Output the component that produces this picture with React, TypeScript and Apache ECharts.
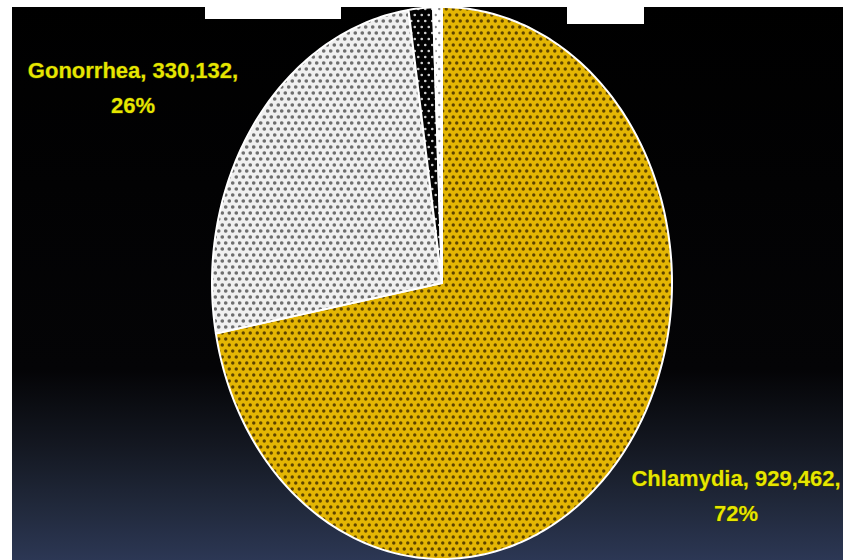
import React, { useEffect, useRef } from "react";
import * as echarts from "echarts";

// ---- data ----
const categories = ["Chlamydia", "Gonorrhea", "Syphilis", "Other"];
const values = [929462, 330132, 22000, 8000];
const labeledCategories = ["Gonorrhea", "Chlamydia"];

// ---- layout / style ----
const W = 843;
const H = 560;
const CX = 442;
const CY = 283;
const RX = 230;
const RY = 276;

const patternStyles = [
  { bg: "#e4b604", dot: "#5e4400", r: 1.7 },
  { bg: "#f0f0f0", dot: "#6e6e6e", r: 1.8 },
  { bg: "#030303", dot: "#d0d0d0", r: 1.3 },
  { bg: "#ffffff", dot: "#8a8a8a", r: 1.2 },
];

const labelPos: Record<string, [number, number]> = {
  Gonorrhea: [133, 88],
  Chlamydia: [736, 496],
};

function makePattern(bg: string, dot: string, r: number) {
  const tw = 7;
  const th = 12;
  const c = document.createElement("canvas");
  c.width = tw;
  c.height = th;
  const ctx = c.getContext("2d")!;
  ctx.fillStyle = bg;
  ctx.fillRect(0, 0, tw, th);
  ctx.fillStyle = dot;
  const pts = [
    [1.75, 3],
    [5.25, 9],
  ];
  for (const [x, y] of pts) {
    ctx.beginPath();
    ctx.arc(x, y, r, 0, Math.PI * 2);
    ctx.fill();
  }
  return { image: c, repeat: "repeat", imageWidth: tw, imageHeight: th } as any;
}

export default function App() {
  const ref = useRef<HTMLDivElement>(null);

  useEffect(() => {
    if (!ref.current) return;
    const chart = echarts.init(ref.current, undefined, { renderer: "svg" });
    const total = values.reduce((a, b) => a + b, 0);
    const patterns = patternStyles.map((p) => makePattern(p.bg, p.dot, p.r));

    const labels = labeledCategories.map((name) => {
      const i = categories.indexOf(name);
      const pct = Math.round((values[i] / total) * 100);
      const [x, y] = labelPos[name];
      return {
        type: "text",
        x,
        y,
        z: 100,
        style: {
          text: `${name}, ${values[i].toLocaleString("en-US")},\n${pct}%`,
          fill: "#e6e600",
          stroke: "#3c3c00",
          lineWidth: 1,
          font: 'bold 22px "Liberation Sans", Arial, sans-serif',
          textAlign: "center",
          textVerticalAlign: "middle",
          lineHeight: 35,
        },
      };
    });

    chart.setOption({
      animation: false,
      graphic: [
        {
          type: "rect",
          z: -100,
          shape: { x: 0, y: 0, width: W, height: H },
          style: {
            fill: new echarts.graphic.LinearGradient(0, 0, 0, 1, [
              { offset: 0, color: "#000000" },
              { offset: 0.66, color: "#040406" },
              { offset: 0.8, color: "#141822" },
              { offset: 0.9, color: "#20283a" },
              { offset: 1, color: "#2c3754" },
            ]),
          },
        },
        { type: "rect", z: 100, shape: { x: 0, y: 0, width: 12, height: H }, style: { fill: "#ffffff" } },
        { type: "rect", z: 100, shape: { x: 0, y: 0, width: W, height: 7 }, style: { fill: "#ffffff" } },
        { type: "rect", z: 100, shape: { x: 205, y: 0, width: 136, height: 19 }, style: { fill: "#ffffff" } },
        { type: "rect", z: 100, shape: { x: 567, y: 0, width: 77, height: 24 }, style: { fill: "#ffffff" } },
        ...labels,
      ],
      series: [
        {
          type: "custom",
          coordinateSystem: "none",
          silent: true,
          data: categories.map((name, i) => ({ name, value: values[i] })),
          renderItem: (params: any, api: any) => {
            const i = params.dataIndex;
            let start = 0;
            for (let k = 0; k < i; k++) start += values[k];
            const v = api.value(0) as number;
            const a0 = (start / total) * Math.PI * 2;
            const a1 = ((start + v) / total) * Math.PI * 2;
            const n = Math.max(2, Math.ceil(((a1 - a0) * 180) / Math.PI));
            const pts: number[][] = [[CX, CY]];
            for (let k = 0; k <= n; k++) {
              const a = a0 + ((a1 - a0) * k) / n;
              pts.push([CX + RX * Math.sin(a), CY - RY * Math.cos(a)]);
            }
            return {
              type: "polygon",
              shape: { points: pts },
              style: { fill: patterns[i], stroke: "#ffffff", lineWidth: 2, lineJoin: "round" },
            };
          },
        },
      ],
    });
    return () => chart.dispose();
  }, []);

  return (
    <div
      ref={ref}
      style={{ position: "absolute", left: 0, top: 0, width: W, height: H }}
    />
  );
}
